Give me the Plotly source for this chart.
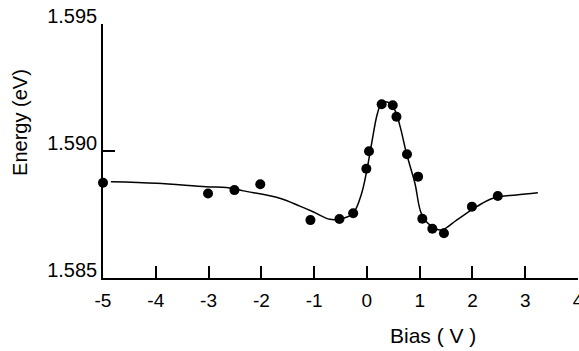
import plotly.graph_objects as go

# Measured data points
bias_pts = [-5.00, -3.01, -2.51, -2.02, -1.07, -0.52, -0.26, -0.01, 0.04, 0.28,
            0.49, 0.56, 0.76, 0.97, 1.05, 1.24, 1.46, 1.99, 2.48]
energy_pts = [1.58875, 1.58833, 1.58846, 1.58869, 1.58728, 1.58732, 1.58755, 1.58930,
              1.58999, 1.59184, 1.59180, 1.59135, 1.58987, 1.58899, 1.58733, 1.58694,
              1.58676, 1.58781, 1.58823]

# Fitted curve
bias_fit = [-4.85, -3.98, -3.04, -2.66, -2.34, -1.65, -1.27, -1.02, -0.70, -0.45,
            -0.26, -0.10, 0.00, 0.09, 0.20, 0.28, 0.40, 0.53, 0.63, 0.75, 0.91,
            1.03, 1.19, 1.41, 1.70, 2.08, 2.39, 2.83, 3.24]
energy_fit = [1.58879, 1.58873, 1.58859, 1.58856, 1.58843, 1.58814, 1.58783, 1.58761,
              1.58731, 1.58735, 1.58755, 1.58833, 1.58925, 1.59030, 1.59148, 1.59188,
              1.59192, 1.59161, 1.59096, 1.58991, 1.58873, 1.58755, 1.58709, 1.58689,
              1.58728, 1.58781, 1.58814, 1.58827, 1.58836]

x_ticks = [-5, -4, -3, -2, -1, 0, 1, 2, 3, 4]
x_ticktext = ["-5", "-4", "-3", "-2", "-1", "0", "1", "2", "3", "4"]
y_ticks = [1.585, 1.590, 1.595]
y_ticktext = ["1.585", "1.590", "1.595"]

FONT = "Liberation Sans"

fig = go.Figure()
fig.add_trace(go.Scatter(x=bias_fit, y=energy_fit, mode="lines",
                         line=dict(color="black", width=1.5, shape="spline"),
                         hoverinfo="skip", showlegend=False))
fig.add_trace(go.Scatter(x=bias_pts, y=energy_pts, mode="markers",
                         marker=dict(color="black", size=10),
                         cliponaxis=False, showlegend=False))

fig.update_layout(
    width=579, height=351,
    margin=dict(l=103, r=1, t=24, b=73),
    paper_bgcolor="white", plot_bgcolor="white",
    font=dict(family=FONT, size=19, color="black"),
    xaxis=dict(range=[-5, 4], tickvals=x_ticks, ticktext=x_ticktext,
               showline=True, linecolor="black", linewidth=1.5,
               ticks="inside", ticklen=12, tickwidth=1.5, tickcolor="black",
               showgrid=False, zeroline=False, ticklabelstandoff=4,
               automargin=False, ticklabeloverflow="allow"),
    yaxis=dict(range=[1.585, 1.595], tickvals=y_ticks, ticktext=y_ticktext,
               showline=True, linecolor="black", linewidth=1.5,
               ticks="inside", ticklen=12, tickwidth=1.5, tickcolor="black",
               showgrid=False, zeroline=False, ticklabelposition="outside top",
               ticklabelshift=7,
               ticklabeloverflow="allow", automargin=False,
               tickfont=dict(size=20)),
    annotations=[
        dict(text="Bias ( V )", xref="x", yref="paper", x=1.25, y=-0.228,
             xanchor="center", yanchor="middle", showarrow=False,
             font=dict(size=21)),
        dict(text="Energy (eV)", xref="paper", yref="paper", x=-0.175, y=0.614,
             xanchor="center", yanchor="middle", textangle=-90, showarrow=False,
             font=dict(size=20)),
    ],
)

fig.write_html("out.html", config={"displayModeBar": False},
               post_script="document.body.style.margin='0';document.body.style.overflow='hidden';")
